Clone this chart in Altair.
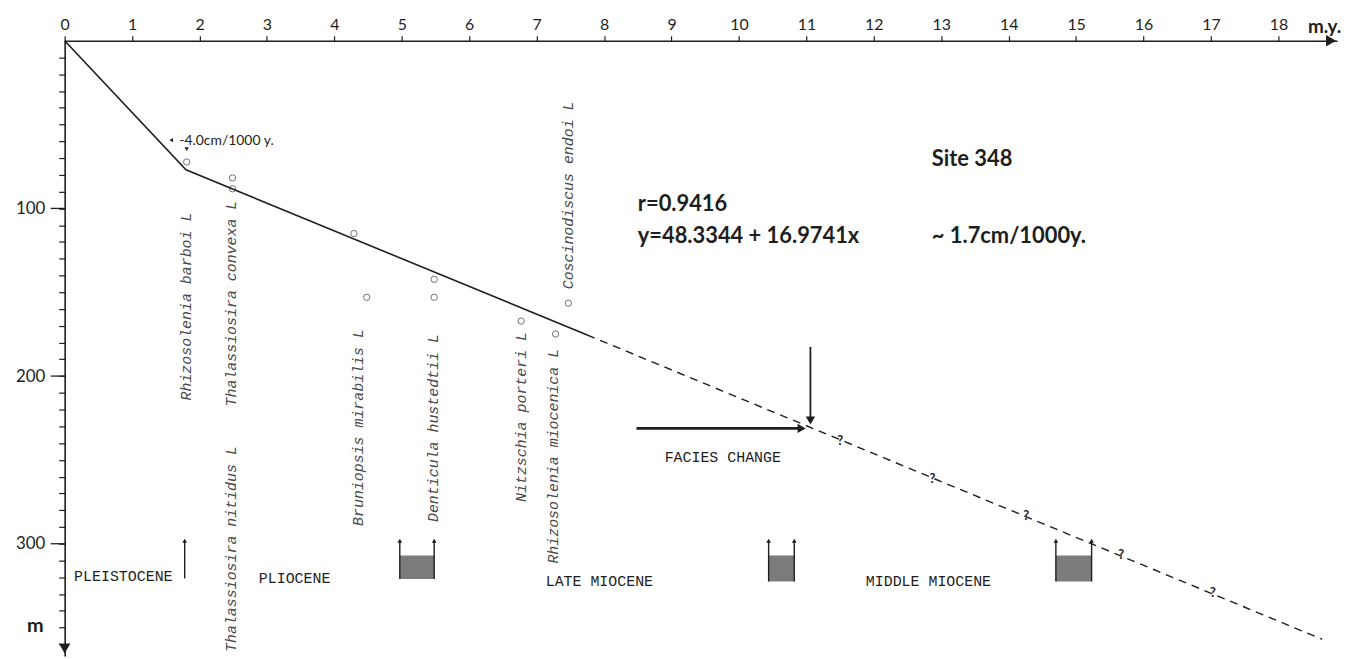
import altair as alt
import pandas as pd

# ---------------- data ----------------
X_MAX = 18.87          # age axis extent (m.y.)
Y_MAX = 367            # depth axis extent (m)
X_TICKS = list(range(0, 19))
Y_MINOR = list(range(10, 370, 10))
Y_MAJOR = [100, 200, 300]

LINE_AGE = [0, 1.8, 7.75]
LINE_DEPTH = [0, 77, 175.5]
DASH_AGE = [7.75, 18.65]
DASH_DEPTH = [175.5, 357]

DATUM_AGE = [1.81, 2.49, 2.49, 4.29, 4.48, 5.48, 5.48, 6.77, 7.28, 7.47]
DATUM_DEPTH = [72.3, 81.8, 88.3, 115, 153, 142.3, 153, 167.2, 174.9, 156.5]

SPECIES = ["Rhizosolenia barboi L", "Thalassiosira convexa L",
           "Thalassiosira nitidus L", "Bruniopsis mirabilis L",
           "Denticula hustedtii L", "Nitzschia porteri L",
           "Rhizosolenia miocenica L", "Coscinodiscus endoi L"]
SPECIES_AGE = [1.80, 2.47, 2.46, 4.35, 5.47, 6.77, 7.25, 7.47]
SPECIES_TOP = [102.5, 95.4, 241.8, 172, 175, 173.7, 183.8, 36.2]

EPOCHS = ["PLEISTOCENE", "PLIOCENE", "LATE MIOCENE", "MIDDLE MIOCENE"]
EPOCH_AGE = [0.87, 3.41, 7.93, 12.81]
EPOCH_DEPTH = [319, 320.7, 322, 322]

BOX_LEFT = [4.97, 10.44, 14.70]
BOX_RIGHT = [5.48, 10.82, 15.23]
BOX_TOP = [307, 307, 307]
BOX_BOTTOM = [321, 322.5, 322.5]
BOUND_AGE = [1.78, 4.97, 5.48, 10.44, 10.82, 14.70, 15.23]
BOUND_BOTTOM = [320.7, 321, 321, 322.5, 322.5, 322.5, 322.5]
BOUND_TOP = 298.2

QMARK_AGE = [11.5, 12.87, 14.26, 15.67, 17.03]
QMARK_DEPTH = [238.9, 261.4, 283.3, 307, 329.6]

FACIES_H_AGE = [8.48, 10.9]
FACIES_H_DEPTH = 231.2
FACIES_V_AGE = 11.06
FACIES_V_DEPTH = [182.6, 225]
FACIES_TIPS_AGE = [10.93, 11.06]
FACIES_TIPS_DEPTH = [231.2, 226.5]
FACIES_TIPS_SHAPE = ["triangle-right", "triangle-down"]

ANNOT_TEXT = ["r=0.9416", "y=48.3344 + 16.9741x", "~ 1.7cm/1000y.", "Site 348"]
ANNOT_AGE = [8.5, 8.5, 12.86, 12.86]
ANNOT_DEPTH = [97.2, 116.2, 116.2, 70.5]

RATE_TEXT = "-4.0cm/1000 y."
RATE_AGE = 1.70
RATE_DEPTH = 59.9
RATE_MARK_AGE = [1.58, 1.81]
RATE_MARK_DEPTH = [59.3, 64.6]
RATE_MARK_SHAPE = ["triangle-left", "triangle-down"]

AXIS_ARROW_AGE = [18.78, 0]
AXIS_ARROW_DEPTH = [0, 362.5]
AXIS_ARROW_SHAPE = ["triangle-right", "triangle-down"]

INK = "#1e1e1e"
TYPE = "#4a4a4a"

# ---------------- scales / axes ----------------
xs = alt.Scale(domain=[0, X_MAX], nice=False, zero=False)
ys = alt.Scale(domain=[0, Y_MAX], nice=False, zero=False, reverse=True)

x_axis = alt.Axis(orient="top", values=X_TICKS, tickSize=5, tickWidth=1.2,
                  tickColor=INK, domainColor=INK, domainWidth=1.6,
                  labelFont="Lato", labelFontSize=16, labelColor=INK,
                  labelPadding=3, grid=False, labelFlush=False,
                  labelOverlap=False,
                  title="m.y.", titleFont="Lato", titleFontSize=19,
                  titleFontWeight="bold", titleColor=INK,
                  titleX=1267, titleY=-14, titleAlign="center",
                  titleBaseline="middle", titleAngle=0)
y_axis = alt.Axis(orient="left", values=Y_MINOR, tickSize=6, tickWidth=1.2,
                  tickColor=INK, domainColor=INK, domainWidth=1.6,
                  labelExpr="datum.value % 100 === 0 ? datum.label : ''",
                  labelFont="Lato", labelFontSize=17, labelColor=INK,
                  labelPadding=14, grid=False, labelOverlap=False,
                  labelFlush=False,
                  title="m", titleFont="Lato", titleFontSize=20,
                  titleFontWeight="bold", titleColor=INK, titleAngle=0,
                  titleX=-30, titleY=588, titleAlign="center",
                  titleBaseline="middle")


def X(f="age"):
    return alt.X(f"{f}:Q", scale=xs, axis=x_axis)


def Y(f="depth"):
    return alt.Y(f"{f}:Q", scale=ys, axis=y_axis)


# ---------------- layers ----------------
line_df = pd.DataFrame({"age": LINE_AGE, "depth": LINE_DEPTH})
solid = alt.Chart(line_df).mark_line(color=INK, strokeWidth=1.6).encode(
    x=X(), y=Y())

dash_df = pd.DataFrame({"age": DASH_AGE, "depth": DASH_DEPTH})
dashed = alt.Chart(dash_df).mark_line(color=INK, strokeWidth=1.4,
                                      strokeDash=[8, 6]).encode(x=X(), y=Y())

major_df = pd.DataFrame({"depth": Y_MAJOR})
major_ticks = alt.Chart(major_df).mark_rule(color=INK, strokeWidth=1.3).encode(
    y=Y(), x=alt.value(-14), x2=alt.value(0))

arrow_df = pd.DataFrame({"age": AXIS_ARROW_AGE, "depth": AXIS_ARROW_DEPTH,
                         "shape": AXIS_ARROW_SHAPE})
axis_arrows = alt.Chart(arrow_df).mark_point(filled=True, size=130, color=INK,
                                             opacity=1).encode(
    x=X(), y=Y(), shape=alt.Shape("shape:N", scale=None))

datum_df = pd.DataFrame({"age": DATUM_AGE, "depth": DATUM_DEPTH})
datums = alt.Chart(datum_df).mark_point(shape="circle", filled=False, size=40,
                                        color="#333", strokeWidth=1).encode(
    x=X(), y=Y())

sp_df = pd.DataFrame({"name": SPECIES, "age": SPECIES_AGE, "depth": SPECIES_TOP})
species = alt.Chart(sp_df).mark_text(angle=270, align="right", baseline="middle",
                                     font="Liberation Mono", fontStyle="italic",
                                     fontSize=15, color=TYPE).encode(
    x=X(), y=Y(), text="name:N")

ep_df = pd.DataFrame({"name": EPOCHS, "age": EPOCH_AGE, "depth": EPOCH_DEPTH})
epochs = alt.Chart(ep_df).mark_text(align="center", baseline="middle",
                                    font="Liberation Mono", fontSize=15,
                                    color=INK).encode(x=X(), y=Y(), text="name:N")

box_df = pd.DataFrame({"age": BOX_LEFT, "age2": BOX_RIGHT,
                       "depth": BOX_TOP, "depth2": BOX_BOTTOM})
boxes = alt.Chart(box_df).mark_rect(fill="#747474", opacity=0.95).encode(
    x=X(), x2="age2:Q", y=Y(), y2="depth2:Q")

bound_df = pd.DataFrame({"age": BOUND_AGE, "depth": BOUND_BOTTOM,
                         "top": [BOUND_TOP] * len(BOUND_AGE)})
bound_lines = alt.Chart(bound_df).mark_rule(color=INK, strokeWidth=1.4).encode(
    x=X(), y=Y(), y2="top:Q")
bound_heads = alt.Chart(bound_df).mark_point(shape="triangle-up", filled=True,
                                             size=22, color=INK, opacity=1).encode(
    x=X(), y=Y("top"))

q_df = pd.DataFrame({"age": QMARK_AGE, "depth": QMARK_DEPTH,
                     "q": ["?"] * len(QMARK_AGE)})
qmarks = alt.Chart(q_df).mark_text(font="Lato", fontSize=13, fontWeight="bold",
                                   color=INK, align="center",
                                   baseline="middle").encode(x=X(), y=Y(), text="q:N")

fh_df = pd.DataFrame({"age": [FACIES_H_AGE[0]], "age2": [FACIES_H_AGE[1]],
                      "depth": [FACIES_H_DEPTH]})
facies_h = alt.Chart(fh_df).mark_rule(color=INK, strokeWidth=2.6).encode(
    x=X(), x2="age2:Q", y=Y())
fv_df = pd.DataFrame({"age": [FACIES_V_AGE], "depth": [FACIES_V_DEPTH[0]],
                      "depth2": [FACIES_V_DEPTH[1]]})
facies_v = alt.Chart(fv_df).mark_rule(color=INK, strokeWidth=1.8).encode(
    x=X(), y=Y(), y2="depth2:Q")
ft_df = pd.DataFrame({"age": FACIES_TIPS_AGE, "depth": FACIES_TIPS_DEPTH,
                      "shape": FACIES_TIPS_SHAPE})
facies_tips = alt.Chart(ft_df).mark_point(filled=True, size=90, color=INK,
                                          opacity=1).encode(
    x=X(), y=Y(), shape=alt.Shape("shape:N", scale=None))
ftxt_df = pd.DataFrame({"age": [9.76], "depth": [248.4], "t": ["FACIES CHANGE"]})
facies_txt = alt.Chart(ftxt_df).mark_text(font="Liberation Mono", fontSize=15,
                                          color=INK, align="center",
                                          baseline="middle").encode(
    x=X(), y=Y(), text="t:N")

an_df = pd.DataFrame({"t": ANNOT_TEXT, "age": ANNOT_AGE, "depth": ANNOT_DEPTH})
annots = alt.Chart(an_df).mark_text(font="Lato", fontSize=22, fontWeight="bold",
                                    color=INK, align="left",
                                    baseline="middle").encode(
    x=X(), y=Y(), text="t:N")

rate_df = pd.DataFrame({"t": [RATE_TEXT], "age": [RATE_AGE], "depth": [RATE_DEPTH]})
rate_txt = alt.Chart(rate_df).mark_text(font="Lato", fontSize=14, color=INK,
                                        align="left", baseline="middle").encode(
    x=X(), y=Y(), text="t:N")
rm_df = pd.DataFrame({"age": RATE_MARK_AGE, "depth": RATE_MARK_DEPTH,
                      "shape": RATE_MARK_SHAPE})
rate_marks = alt.Chart(rm_df).mark_point(filled=True, size=18, color=INK,
                                         opacity=1).encode(
    x=X(), y=Y(), shape=alt.Shape("shape:N", scale=None))

chart = alt.layer(
    solid, dashed, major_ticks, axis_arrows, datums, species, epochs, boxes,
    bound_lines, bound_heads, qmarks, facies_h, facies_v, facies_tips,
    facies_txt, annots, rate_txt, rate_marks
).properties(
    width=1280, height=619,
    autosize=alt.AutoSizeParams(type="none"),
    padding={"left": 57, "top": 31, "right": 8, "bottom": 1},
    background="white",
).configure_view(stroke=None)

chart.save("out.html", embed_options={"renderer": "svg", "actions": False})
